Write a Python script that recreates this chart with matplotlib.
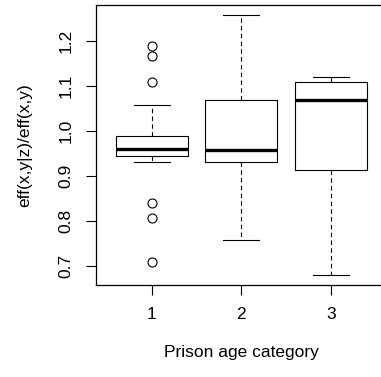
import matplotlib
matplotlib.use("Agg")
import matplotlib.pyplot as plt

plt.rcParams['font.family'] = ['Liberation Sans', 'DejaVu Sans']

categories = ["1", "2", "3"]
q1 = [0.944, 0.930, 0.912]
med = [0.960, 0.957, 1.069]
q3 = [0.989, 1.067, 1.107]
whislo = [0.931, 0.757, 0.680]
whishi = [1.056, 1.256, 1.119]
fliers = [[1.187, 1.165, 1.107, 0.839, 0.806, 0.709], [], []]

stats = []
for i in range(len(categories)):
    stats.append({"label": categories[i], "q1": q1[i], "med": med[i], "q3": q3[i],
                  "whislo": whislo[i], "whishi": whishi[i], "fliers": fliers[i]})

fig = plt.figure(figsize=(3.81, 3.77), dpi=100)
ax = fig.add_axes([96 / 381, 1 - 285 / 377, 290.8 / 381, 280 / 377])

ax.bxp(stats, positions=[1, 2, 3], widths=0.8,
       boxprops=dict(color='black', linewidth=0.8),
       medianprops=dict(color='black', linewidth=2.4, solid_capstyle='butt'),
       whiskerprops=dict(color='black', linewidth=0.8, linestyle=(0, (4, 3))),
       capprops=dict(color='black', linewidth=0.8),
       capwidths=0.4,
       flierprops=dict(marker='o', markerfacecolor='none', markeredgecolor='black',
                       markersize=6.5, markeredgewidth=0.8))

ax.set_xlim(0.38, 3.62)
ax.set_ylim(0.657, 1.279)
ax.set_xticks([1, 2, 3])
ax.set_xticklabels(categories)
ax.set_yticks([0.7, 0.8, 0.9, 1.0, 1.1, 1.2])
ax.set_yticklabels(["0.7", "0.8", "0.9", "1.0", "1.1", "1.2"], rotation=90, va='center')
ax.tick_params(axis='both', length=7, width=0.8, labelsize=12.5, color='black')
ax.tick_params(axis='y', pad=9)
ax.tick_params(axis='x', pad=9)
for s in ax.spines.values():
    s.set_linewidth(0.9)

fig.text(25 / 381, 1 - 145 / 377, "eff(x,y|z)/eff(x,y)", rotation=90,
         ha='center', va='center', fontsize=12.5)
fig.text(241 / 381, 1 - 352 / 377, "Prison age category",
         ha='center', va='center', fontsize=12.5)

fig.savefig("out.png", dpi=100)
